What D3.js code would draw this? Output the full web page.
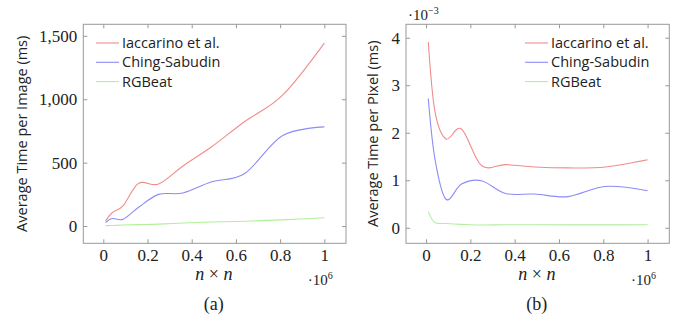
<!DOCTYPE html>
<html>
<head>
<meta charset="utf-8">
<script src="https://cdn.jsdelivr.net/npm/d3@7"></script>
<style>
  body { margin: 0; background: #fff; }
  svg { display: block; }
  .tick text { font-family: "Liberation Serif", serif; font-size: 17px; fill: #222; }
  .tick line { stroke: #999; }
  .lbl { font-family: "Open Sans", "DejaVu Sans", sans-serif; fill: #222; }
  .serif { font-family: "Liberation Serif", serif; fill: #222; }
</style>
</head>
<body>
<script>
// x values: n*n (in units of 10^6)
var nn = [0.01, 0.04, 0.09, 0.16, 0.25, 0.36, 0.49, 0.64, 0.81, 1.0];

// (a) average time per image (ms)
var imgIaccarino = [40, 105, 162, 338, 331, 474, 625, 825, 1030, 1443];
var imgChing     = [27, 59, 54, 148, 250, 261, 349, 415, 712, 782];
var imgRGBeat    = [3, 4, 8, 11, 15, 24, 32, 38, 49, 65];

// (b) average time per pixel (10^-3 ms)
var pxIaccarino = [3.91, 2.45, 1.87, 2.08, 1.31, 1.33, 1.28, 1.26, 1.28, 1.43];
var pxChing     = [2.72, 1.45, 0.60, 0.92, 0.99, 0.72, 0.71, 0.655, 0.87, 0.78];
var pxRGBeat    = [0.34, 0.11, 0.09, 0.072, 0.058, 0.065, 0.063, 0.06, 0.06, 0.063];

var seriesNames = ["Iaccarino et al.", "Ching-Sabudin", "RGBeat"];
var colors = ["#f08c8c", "#8c8cf5", "#b0f09c"];

var xTicks = [0, 0.2, 0.4, 0.6, 0.8, 1];
var imgTicks = [0, 500, 1000, 1500];
var pxTicks = [0, 1, 2, 3, 4];

var W = 677, H = 321;
var svg = d3.select("body").append("svg")
    .attr("width", W)
    .attr("height", H);

function panel(opt) {
  var x = d3.scaleLinear().domain([-0.0905, 1.098]).range([opt.left, opt.right]);
  var y = d3.scaleLinear().domain(opt.yDomain).range([243.3, 24.3]);
  var g = svg.append("g");

  // frame
  g.append("rect")
      .attr("x", opt.left).attr("y", 24.3)
      .attr("width", opt.right - opt.left).attr("height", 243.3 - 24.3)
      .attr("fill", "none").attr("stroke", "#999").attr("stroke-width", 1);

  // axes, ticks pointing inward
  var axes = [
    [d3.axisBottom(x).tickValues(xTicks).tickFormat(d3.format("~g")), "translate(0,243.3)", true],
    [d3.axisTop(x).tickValues(xTicks), "translate(0,24.3)", false],
    [d3.axisLeft(y).tickValues(opt.yTicks).tickFormat(opt.yFormat), "translate(" + opt.left + ",0)", true],
    [d3.axisRight(y).tickValues(opt.yTicks), "translate(" + opt.right + ",0)", false]
  ];
  axes.forEach(function(a) {
    var ax = g.append("g")
        .attr("transform", a[1])
        .call(a[0].tickSizeInner(-4).tickSizeOuter(0).tickPadding(a[2] ? 6 : 0));
    ax.select(".domain").remove();
    if (!a[2]) ax.selectAll("text").remove();
  });

  // curves
  var line = d3.line()
      .x(function(d) { return x(d[0]); })
      .y(function(d) { return y(d[1]); })
      .curve(d3.curveCardinal.tension(0));
  opt.series.forEach(function(s, i) {
    g.append("path")
        .datum(nn.map(function(v, j) { return [v, s[j]]; }))
        .attr("d", line)
        .attr("fill", "none")
        .attr("stroke", colors[i])
        .attr("stroke-width", 1.1);
  });

  // legend
  seriesNames.forEach(function(name, i) {
    var ly = 43 + i * 19.3;
    g.append("line")
        .attr("x1", opt.legX).attr("x2", opt.legX + 23)
        .attr("y1", ly).attr("y2", ly)
        .attr("stroke", colors[i]).attr("stroke-width", 1.1);
    g.append("text").attr("class", "lbl")
        .attr("x", opt.legX + 26).attr("y", ly + 5)
        .style("font-size", "14.5px")
        .text(name);
  });

  // y label
  g.append("text").attr("class", "lbl")
      .attr("transform", "translate(" + opt.yLabelX + "," + (y(opt.yDomain[0]) + y(opt.yDomain[1])) / 2 + ") rotate(-90)")
      .attr("text-anchor", "middle")
      .style("font-size", "14.5px")
      .text(opt.yLabel);

  // x label
  var xl = g.append("text").attr("class", "serif")
      .attr("x", x(0.5)).attr("y", 280)
      .attr("text-anchor", "middle")
      .style("font-size", "18px");
  xl.append("tspan").style("font-style", "italic").text("n");
  xl.append("tspan").text(" \u00d7 ");
  xl.append("tspan").style("font-style", "italic").text("n");

  // x multiplier
  var m = g.append("text").attr("class", "serif")
      .attr("x", x(1) - 4).attr("y", 285)
      .attr("text-anchor", "middle")
      .style("font-size", "15px");
  m.append("tspan").text("\u00b710");
  m.append("tspan").attr("dy", -6).style("font-size", "10px").text("6");

  // caption
  g.append("text").attr("class", "serif")
      .attr("x", x(0.5)).attr("y", 310)
      .attr("text-anchor", "middle")
      .style("font-size", "18px")
      .text(opt.caption);

  return { x: x, y: y };
}

panel({
  left: 83.3, right: 346,
  yDomain: [-136, 1591],
  yTicks: imgTicks, yFormat: d3.format(","),
  series: [imgIaccarino, imgChing, imgRGBeat],
  legX: 96, yLabelX: 27,
  yLabel: "Average Time per Image (ms)",
  caption: "(a)"
});

panel({
  left: 406, right: 669.3,
  yDomain: [-0.327, 4.283],
  yTicks: pxTicks, yFormat: d3.format("~g"),
  series: [pxIaccarino, pxChing, pxRGBeat],
  legX: 525, yLabelX: 378,
  yLabel: "Average Time per Pixel (ms)",
  caption: "(b)"
});

// y multiplier for (b)
var ym = svg.append("text").attr("class", "serif")
    .attr("x", 408).attr("y", 20)
    .style("font-size", "15px");
ym.append("tspan").text("\u00b710");
ym.append("tspan").attr("dy", -6).style("font-size", "10px").text("\u22123");
</script>
</body>
</html>
